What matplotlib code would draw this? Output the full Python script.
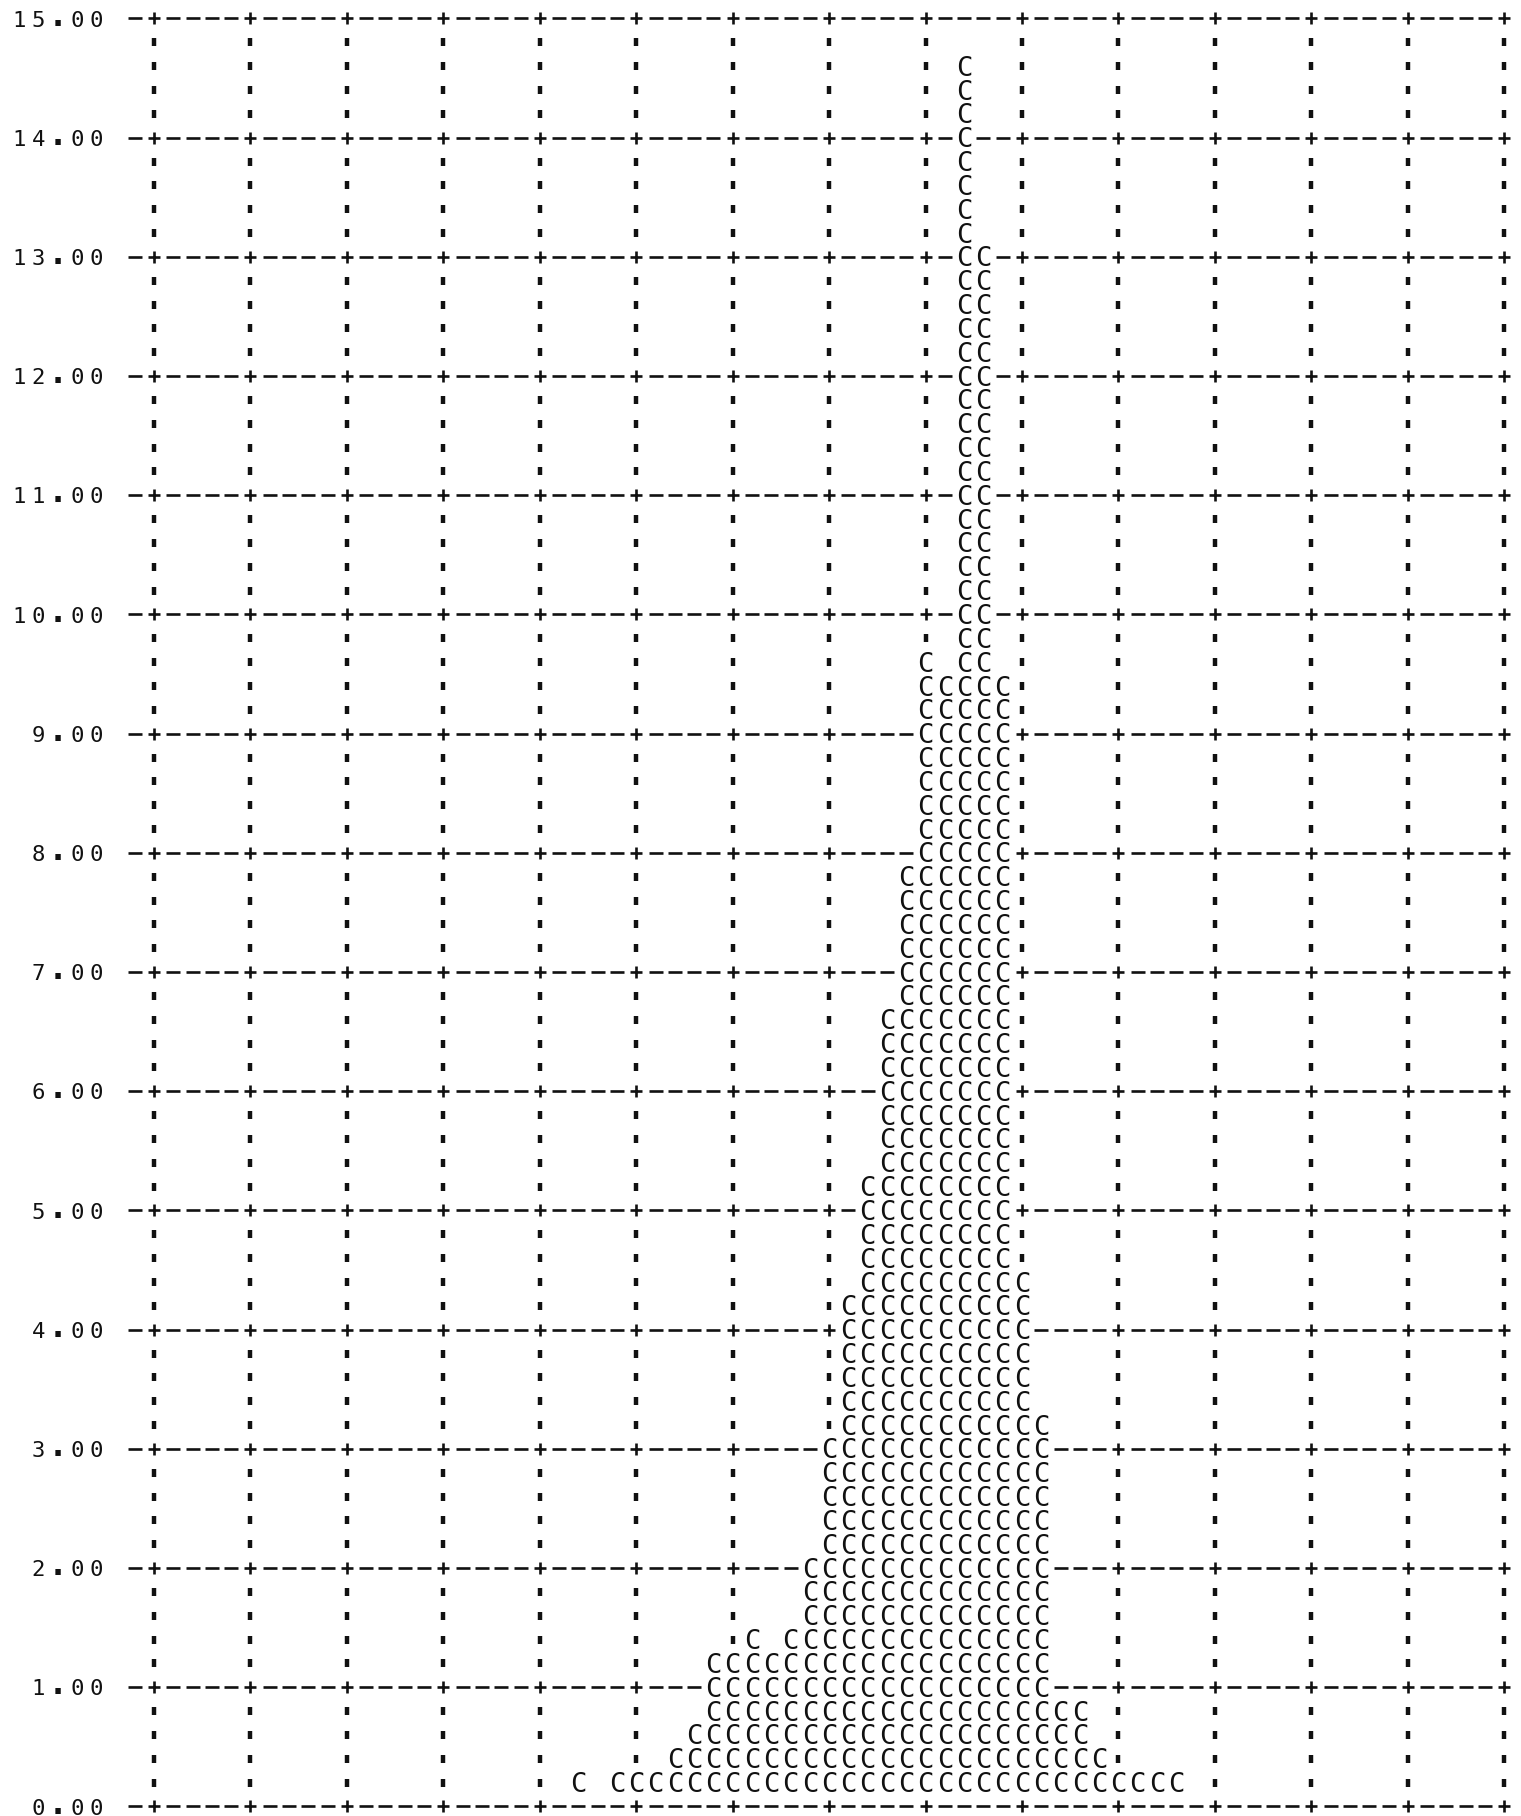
import numpy as np
import matplotlib
matplotlib.use('Agg')
import matplotlib.pyplot as plt

matplotlib.rcParams['font.family'] = 'DejaVu Sans Mono'


# Printer rows (one line every 0.2) and first / last column holding a 'C'

row_y = [14.6, 14.4, 14.2, 14.0, 13.8, 13.6, 13.4, 13.2,
         13.0, 12.8, 12.6, 12.4, 12.2, 12.0, 11.8, 11.6, 11.4,
         11.2, 11.0, 10.8, 10.6, 10.4, 10.2, 10.0, 9.8,
         9.6,
         9.4, 9.2, 9.0, 8.8, 8.6, 8.4, 8.2, 8.0,
         7.8, 7.6, 7.4, 7.2, 7.0, 6.8,
         6.6, 6.4, 6.2, 6.0, 5.8, 5.6, 5.4,
         5.2, 5.0, 4.8, 4.6,
         4.4,
         4.2, 4.0, 3.8, 3.6, 3.4,
         3.2,
         3.0, 2.8, 2.6, 2.4, 2.2,
         2.0, 1.8, 1.6,
         1.4,
         1.2, 1.0,
         0.8, 0.6, 0.4, 0.2]

c_start = [42, 42, 42, 42, 42, 42, 42, 42,
           42, 42, 42, 42, 42, 42, 42, 42, 42,
           42, 42, 42, 42, 42, 42, 42, 42,
           42,
           40, 40, 40, 40, 40, 40, 40, 40,
           39, 39, 39, 39, 39, 39,
           38, 38, 38, 38, 38, 38, 38,
           37, 37, 37, 37,
           37,
           36, 36, 36, 36, 36,
           36,
           35, 35, 35, 35, 35,
           34, 34, 34,
           33,
           29, 29,
           29, 28, 27, 24]

c_end = [42, 42, 42, 42, 42, 42, 42, 42,
         43, 43, 43, 43, 43, 43, 43, 43, 43,
         43, 43, 43, 43, 43, 43, 43, 43,
         43,
         44, 44, 44, 44, 44, 44, 44, 44,
         44, 44, 44, 44, 44, 44,
         44, 44, 44, 44, 44, 44, 44,
         44, 44, 44, 44,
         45,
         45, 45, 45, 45, 45,
         46,
         46, 46, 46, 46, 46,
         46, 46, 46,
         46,
         46, 46,
         48, 48, 49, 53]

# Isolated C's left of the main run
stray_col = [40, 31, 22]
stray_y = [9.6, 1.4, 0.2]

# Axis labels
y_ticks = [15, 14, 13, 12, 11, 10, 9, 8, 7, 6, 5, 4, 3, 2, 1, 0]
n_cols = 70
col_step = 5

ink = '#111111'


# Cells taken by a 'C'

c_x = []
c_y = []
for y, a, b in zip(row_y, c_start, c_end):
    for c in range(a, b + 1):
        c_x.append(c)
        c_y.append(y)
c_x += stray_col
c_y += stray_y
taken = set((c, int(round(y * 5))) for c, y in zip(c_x, c_y))


# Plot

fig = plt.figure(figsize=(15.21, 18.16), dpi=100)
ax = fig.add_axes([0, 0, 1, 1])
ax.axis('off')
ax.set_xlim(-7.983, 70.866)
ax.set_ylim(-0.080, 15.155)

# horizontal grid lines: '+' at every 5th column, '-' elsewhere
px, py, dx, dy = [], [], [], []
for v in y_ticks:
    for c in range(-1, n_cols + 1):
        if (c, v * 5) in taken:
            continue
        if c >= 0 and c % col_step == 0:
            px.append(c)
            py.append(v)
        else:
            dx.append(c)
            dy.append(v)
ax.plot(dx, dy, ls='none', marker='_', ms=9.5, mew=1.9, color=ink)
ax.plot(px, py, ls='none', marker='+', ms=8.5, mew=1.9, color=ink)

# vertical grid: short ticks on the rows in between
tx, ty = [], []
for r in range(0, 76):
    if r % 5 == 0:
        continue
    for c in range(0, n_cols + 1, col_step):
        if (c, r) in taken:
            continue
        tx.append(c)
        ty.append(r / 5)
ax.plot(tx, ty, ls='none', marker='|', ms=6, mew=3.2, color=ink)

# data characters
for c, y in zip(c_x, c_y):
    ax.text(c, y - 0.08, 'C', fontsize=19.5, ha='center', va='baseline', color=ink)

# y labels, one character per printer column
for v in y_ticks:
    lab = '%.2f' % v
    for i, ch in enumerate(lab):
        c = -3 - (len(lab) - 1 - i)
        if ch == '.':
            ax.text(c, v - 0.06, ch, fontsize=24, fontweight='bold',
                    ha='center', va='baseline', color=ink)
        else:
            ax.text(c, v - 0.068, ch, fontsize=16, ha='center',
                    va='baseline', color=ink)

plt.savefig('out.png', dpi=100)
